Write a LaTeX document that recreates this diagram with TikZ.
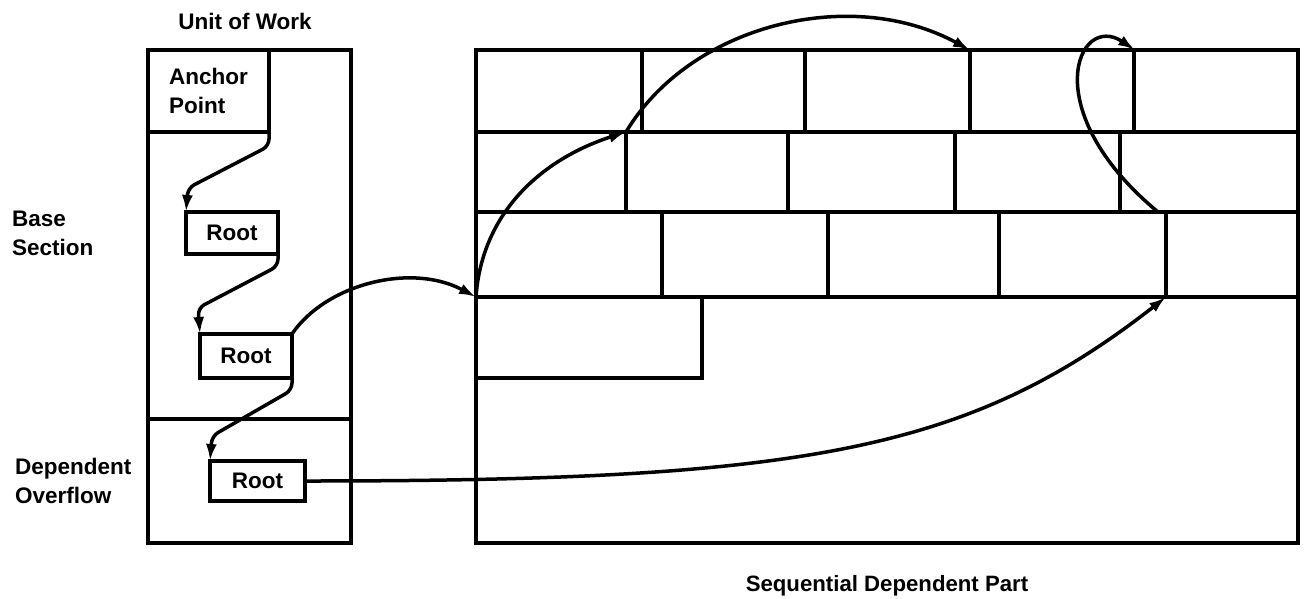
\documentclass[tikz,border=0pt]{standalone}
\usepackage{fontspec}
\setmainfont{Liberation Sans}
\usetikzlibrary{arrows.meta,calc}
\begin{document}
\begin{tikzpicture}[x=1pt,y=-1pt,
  lbl/.style={font=\bfseries\fontsize{22.5}{29}\selectfont, inner sep=0pt},
  box/.style={draw, line width=3.1pt, inner sep=0pt, outer sep=0pt, font=\bfseries\fontsize{22.5}{29}\selectfont},
  gridline/.style={line width=3.1pt},
  arr/.style={line width=3.5pt, -{Latex[length=17pt,width=11pt]}},
  zig/.style={arr, rounded corners=7pt},
]
\useasboundingbox (0,0) rectangle (1306,598);

% Unit of work box
\node[box, minimum width=203pt, minimum height=493pt, anchor=north west] (uow) at (148,50) {};
\node[box, minimum width=121pt, minimum height=82pt, anchor=north west, align=left] (anchor) at (148,50) {Anchor\\Point};
\coordinate (sepl) at (148,419);
\coordinate (sepr) at (351,419);
\draw[gridline] (sepl) -- (sepr);

\node[box, minimum width=92pt, minimum height=42pt] (root1) at (232,233) {Root};
\node[box, minimum width=92pt, minimum height=44pt] (root2) at (246,356) {Root};
\node[box, minimum width=95pt, minimum height=40pt] (root3) at (257.5,481) {Root};

% labels
\node[lbl, anchor=base] (uowlbl) at (245,29) {Unit of Work};
\node[lbl, align=left, anchor=north west] (baselbl) at (12,211) {Base\\Section};
\node[lbl, align=left, anchor=north west] (deplbl) at (15,458) {Dependent\\Overflow};
\node[lbl, anchor=base, font=\bfseries\fontsize{22.2}{29}\selectfont] (sdplbl) at (887,591) {Sequential Dependent Part};

% Sequential dependent part
\node[box, minimum width=822pt, minimum height=493pt, anchor=north west] (sdp) at (476,50) {};
\draw[gridline] (476,132) -- (1298,132);
\draw[gridline] (476,212) -- (1298,212);
\draw[gridline] (476,297) -- (1298,297);
\foreach \x in {642,805,970,1134} \draw[gridline] (\x,50) -- (\x,132);
\foreach \x in {626,788,955,1120} \draw[gridline] (\x,132) -- (\x,212);
\foreach \x in {662,828,999,1166} \draw[gridline] (\x,212) -- (\x,297);
\draw[gridline] (702,297) -- (702,378) -- (476,378);

\coordinate (p1) at (476,297);
\coordinate (p2) at (626,132);
\coordinate (p3) at (970,50);
\coordinate (p4) at (1158,212);
\coordinate (p5) at (1135,50);
\coordinate (p6) at (1166,297);

% connectors
\draw[zig] (anchor.south east) -- ++(0,14) -- (188,188) -- (root1.north west);
\draw[zig] (root1.south east) -- ++(0,12) -- (198,308) -- (root2.north west);
\draw[zig] (root2.south east) -- ++(0,12) -- (212,436) -- (root3.north west);

\draw[arr] (root2.north east) .. controls (325,285) and (410,262) .. (p1);
\draw[arr] (p1) .. controls (482,210) and (545,158) .. (p2);
\draw[arr] (p2) .. controls (690,25) and (850,-15) .. (p3);
\draw[arr] (p4) .. controls (1035,110) and (1078,12) .. (p5);
\draw[arr] (root3.east) .. controls (805,481) and (969,451) .. (p6);
\end{tikzpicture}
\end{document}
